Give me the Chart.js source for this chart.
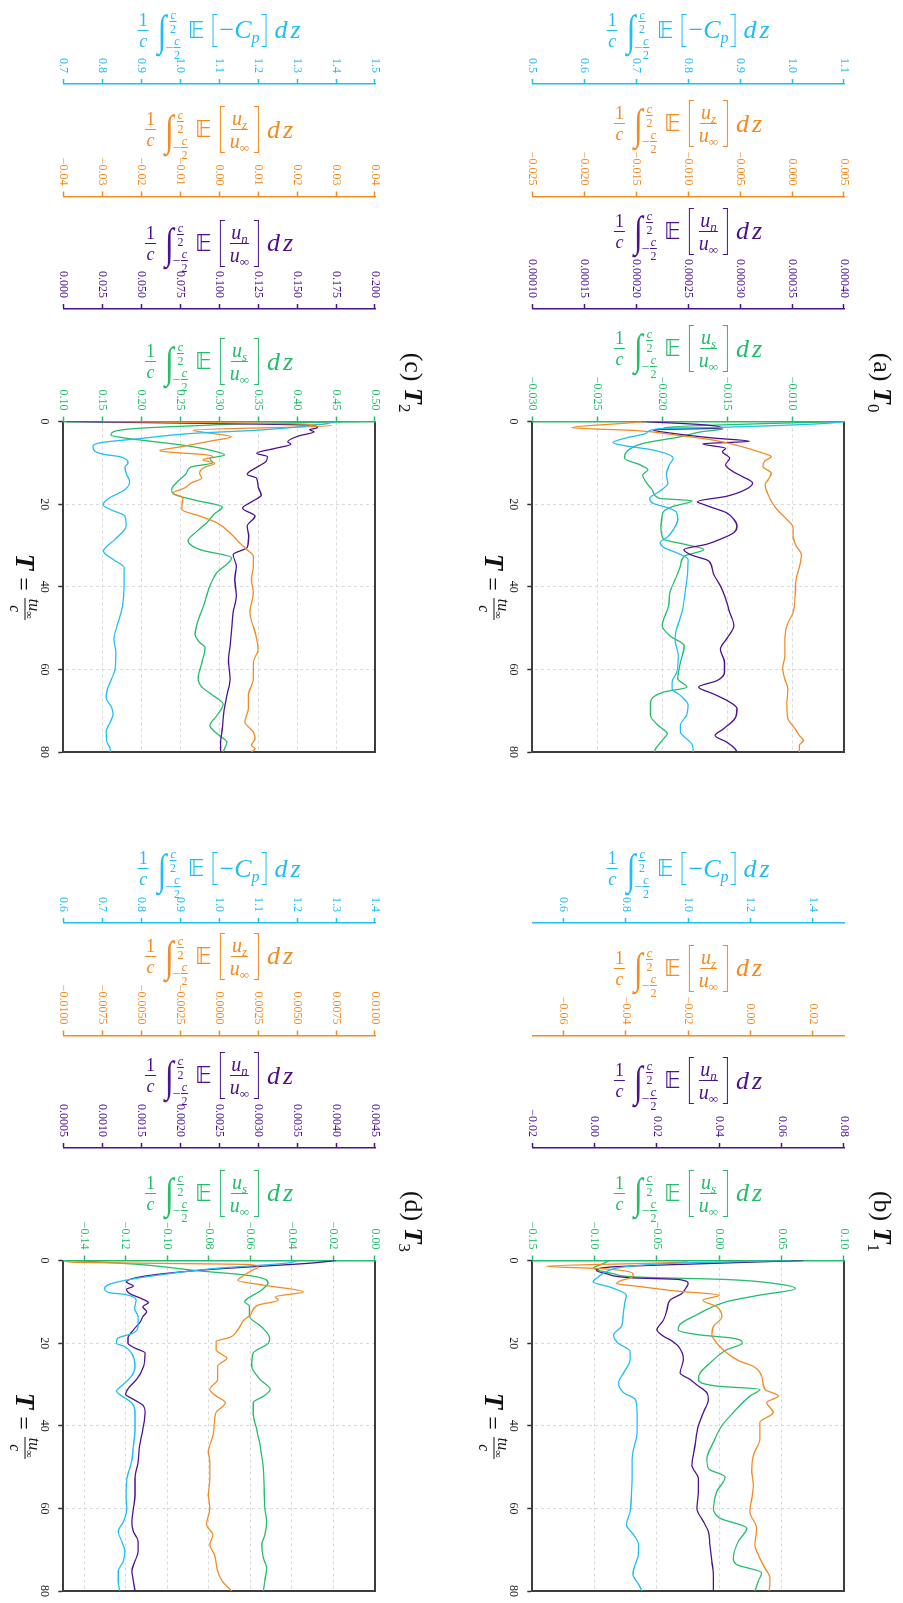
<!DOCTYPE html>
<html><head><meta charset="utf-8">
<script src="https://cdn.jsdelivr.net/npm/chart.js@4.4.1/dist/chart.umd.min.js"></script>
<style>
html,body{margin:0;padding:0;background:#fff;}
body{position:relative;width:903px;height:1603px;overflow:hidden;font-family:'Liberation Serif',serif;}
.rot{position:absolute;left:0;top:0;transform-origin:0 0;}
.fm{position:absolute;display:flex;align-items:center;white-space:nowrap;line-height:1;transform:translate(-50%,-50%);font-family:'Liberation Serif',serif;}
.fr{display:inline-flex;flex-direction:column;align-items:center;line-height:1;}
.fr .n{border-bottom:1.5px solid currentColor;padding:0 1px 1px;}
.fr .d{padding-top:1px;}
.bk{display:inline-block;width:5px;border:1.5px solid currentColor;box-sizing:border-box;}
.bk.l{border-right:none;} .bk.r{border-left:none;}
.lim{display:inline-flex;flex-direction:column;justify-content:space-between;align-items:flex-start;}
.fm sub,.ov sub{font-size:0.65em;vertical-align:-0.3em;line-height:0;}
.fm sub{font-style:italic;}
.ov{position:absolute;transform:translate(-50%,-50%);white-space:nowrap;display:flex;align-items:center;line-height:1;color:#111;font-family:'Liberation Serif',serif;}
</style></head><body>
<script>
// ---------- shared ----------
const T_TICKS = [0, 20, 40, 60, 80];

// ---------- panel (c) T2 ----------
const T_c_cp = [0,0.7,2.1,2.9,4.1,5.1,6.1,7.1,8.0,8.5,10.1,11.0,12.5,14.5,16.5,18.7,20.2,21.4,22.9,25.3,28.5,31.4,33.4,35.4,39.8,44.6,48.6,52.7,55.9,59.9,62.3,64.8,66.8,69.2,70.8,72.8,75.2,77.2,79.2,80];
const c_cp   = [1.40,1.362,1.199,1.028,0.90,0.798,0.776,0.780,0.807,0.844,0.866,0.858,0.861,0.870,0.858,0.815,0.802,0.823,0.858,0.861,0.833,0.803,0.828,0.856,0.856,0.852,0.841,0.830,0.835,0.833,0.824,0.813,0.810,0.824,0.828,0.820,0.810,0.811,0.820,0.821];
const T_c_uz = [0,0.4,1.0,2.1,2.6,3.7,4.7,6.1,7.1,7.6,8.0,8.5,9.3,10.1,11.2,12.5,13.7,14.9,16.1,17.3,18.5,19.8,21.3,22.9,24.5,27.7,29.4,31.0,32.6,35.0,38.2,41.4,46.2,51.0,55.1,58.3,62.3,66.3,69.5,72.7,75.2,76.8,78.4,79.2,80];
const c_uz   = [-0.030,0.010,0.0288,-0.0067,-0.004,0.0031,-0.002,-0.0097,-0.0153,-0.010,-0.004,-0.0016,-0.0042,-0.0011,-0.004,-0.005,-0.0045,-0.0072,-0.0089,-0.0118,-0.0093,-0.0095,-0.0096,-0.0049,-0.0006,0.0036,0.0053,0.0071,0.0088,0.0088,0.0083,0.0088,0.0079,0.0092,0.0100,0.0088,0.0088,0.0075,0.0075,0.0066,0.0088,0.0092,0.0083,0.0092,0.0083];
const T_c_un = [0,0.3,0.9,1.5,2.0,2.5,3.5,4.9,5.5,6.5,7.7,8.5,9.7,10.9,12.8,13.7,15.7,17.8,19.4,21.0,22.9,25.3,27.7,30.5,32.2,35.0,38.2,42.2,46.2,50.3,54.3,58.3,62.3,66.3,70.3,74.4,77.6,80];
const c_un   = [0.002,0.06,0.158,0.163,0.158,0.161,0.151,0.144,0.146,0.136,0.124,0.131,0.130,0.125,0.118,0.124,0.125,0.127,0.121,0.115,0.123,0.118,0.119,0.118,0.109,0.111,0.110,0.111,0.109,0.108,0.107,0.106,0.107,0.105,0.103,0.102,0.101,0.101];
const T_c_us = [0,0.5,1.0,1.6,2.5,3.3,4.0,4.8,5.8,7.0,8.1,9.0,10.0,11.0,12.5,14.5,16.5,17.5,19.0,20.7,22.5,24.5,26.5,28.9,31.0,33.0,36.6,39.8,44.6,49.4,51.5,53.5,54.7,58.3,62.3,64.3,66.3,68.4,71.2,73.6,75.2,76.4,77.6,79.2,80];
const c_us   = [0.48,0.34,0.273,0.20,0.164,0.161,0.179,0.213,0.256,0.290,0.307,0.288,0.292,0.264,0.258,0.247,0.239,0.241,0.268,0.304,0.293,0.284,0.272,0.260,0.275,0.316,0.297,0.288,0.280,0.271,0.269,0.275,0.282,0.278,0.273,0.278,0.292,0.305,0.297,0.288,0.295,0.303,0.310,0.307,0.305];
const c_cp_range = [0.7, 1.5],  c_cp_ticks = [0.7,0.8,0.9,1.0,1.1,1.2,1.3,1.4,1.5];
const c_uz_range = [-0.04, 0.04], c_uz_ticks = [-0.04,-0.03,-0.02,-0.01,0,0.01,0.02,0.03,0.04];
const c_un_range = [0, 0.2],    c_un_ticks = [0,0.025,0.05,0.075,0.1,0.125,0.15,0.175,0.2];
const c_us_range = [0.1, 0.5],  c_us_ticks = [0.1,0.15,0.2,0.25,0.3,0.35,0.4,0.45,0.5];

// ---------- panel (a) T0 ----------
const T_a_cp = [0,0.5,1.4,1.8,2.8,4.0,5.1,5.8,6.9,8.9,10.5,12.9,14.9,16.9,18.6,19.8,21.0,22.1,23.7,26.1,28.1,29.3,30.5,31.8,33.4,36.6,41.4,46.2,50.2,52.7,56.7,60.7,63.1,64.7,66.3,68.7,71.1,73.5,75.2,76.8,78.0,80];
const a_cp   = [1.10,1.06,0.867,0.74,0.72,0.68,0.655,0.675,0.732,0.771,0.764,0.758,0.761,0.745,0.726,0.732,0.764,0.778,0.780,0.772,0.759,0.746,0.753,0.778,0.800,0.799,0.794,0.788,0.778,0.775,0.781,0.778,0.769,0.769,0.785,0.800,0.797,0.785,0.785,0.797,0.807,0.810];
const T_a_uz = [0,0.4,1.5,2.2,3.3,4.5,6.1,7.5,8.5,9.5,10.9,12.5,14.1,15.3,16.5,17.7,19.7,21.7,23.7,25.7,27.7,30.1,32.2,34.2,38.2,42.2,46.2,49.4,53.5,56.7,59.9,62.3,64.7,68.7,71.9,74.4,76.0,77.2,78.4,80];
const a_uz   = [-0.014,-0.016,-0.0212,-0.015,-0.0111,-0.0076,-0.0048,-0.0030,-0.0020,-0.0026,-0.0028,-0.0020,-0.0023,-0.0026,-0.0025,-0.0023,-0.0019,-0.0013,-0.0005,0.0001,0.0001,0.0004,0.0009,0.0008,0.0004,0.0003,0.0001,-0.0005,-0.0007,-0.0007,-0.0009,-0.0007,-0.0004,-0.0005,-0.0004,0.0003,0.0007,0.0011,0.0007,0.0007];
const T_a_un = [0,0.8,1.6,2.0,3.0,4.0,4.8,5.4,6.5,7.3,8.9,10.5,12.1,13.3,14.9,16.5,18.1,19.4,20.1,20.9,22.1,23.7,25.3,26.9,28.5,29.7,31.0,32.2,33.8,36.6,39.8,42.2,46.2,49.4,52.6,55.1,58.3,60.7,62.7,64.3,65.9,67.9,69.5,71.9,74.4,76.0,77.6,79.2,80];
const a_un   = [0.000205,0.000265,0.000283,0.000216,0.000239,0.000274,0.000309,0.000264,0.000286,0.000283,0.000290,0.000286,0.000293,0.000302,0.000312,0.000305,0.000287,0.000259,0.000265,0.000274,0.000287,0.000294,0.000297,0.000294,0.000281,0.000268,0.000246,0.000252,0.000270,0.000274,0.000281,0.000285,0.000290,0.000294,0.000287,0.000281,0.000285,0.000285,0.000278,0.000260,0.000274,0.000290,0.000297,0.000295,0.000284,0.000276,0.000287,0.000295,0.000297];
const T_a_us = [0,0.5,1.5,1.8,2.5,3.7,5.3,7.3,8.9,10.5,11.7,12.9,14.9,16.9,18.6,19.2,20.6,21.8,22.9,25.7,28.5,29.7,31.0,32.6,35.0,38.2,41.4,44.6,49.4,51.9,54.3,58.3,62.3,64.3,65.5,67.9,71.1,73.6,75.6,76.8,79.2,80];
const a_us   = [-0.006,-0.012,-0.0199,-0.0153,-0.0170,-0.0186,-0.02146,-0.02274,-0.0229,-0.0217,-0.0211,-0.0215,-0.0212,-0.0207,-0.0202,-0.0177,-0.0192,-0.0199,-0.0200,-0.0201,-0.0199,-0.0183,-0.0168,-0.0183,-0.0186,-0.0190,-0.0194,-0.0195,-0.0200,-0.0194,-0.0183,-0.0186,-0.0188,-0.0181,-0.0199,-0.0209,-0.0209,-0.0203,-0.0196,-0.0199,-0.0205,-0.0206];
const a_cp_range = [0.5, 1.1],       a_cp_ticks = [0.5,0.6,0.7,0.8,0.9,1.0,1.1];
const a_uz_range = [-0.025, 0.005],  a_uz_ticks = [-0.025,-0.02,-0.015,-0.01,-0.005,0,0.005];
const a_un_range = [0.0001, 0.0004], a_un_ticks = [0.0001,0.00015,0.0002,0.00025,0.0003,0.00035,0.0004];
const a_us_range = [-0.030, -0.006], a_us_ticks = [-0.03,-0.025,-0.02,-0.015,-0.01];

// ---------- panel (d) T3 ----------
const T_d_cp = [0,0.6,2.0,4.0,5.6,6.8,7.8,8.2,9.6,11.6,13.6,15.6,17.6,18.8,20.0,20.8,22.4,25.6,28.0,30.0,31.6,32.8,34.4,36.8,40.8,44.8,48.8,52.8,56.8,60.0,63.2,65.6,68.0,70.4,72.8,75.2,77.6,80];
const d_cp   = [1.20,1.177,0.980,0.809,0.723,0.706,0.719,0.757,0.787,0.783,0.792,0.792,0.779,0.740,0.736,0.757,0.775,0.784,0.775,0.754,0.737,0.750,0.775,0.784,0.784,0.780,0.775,0.763,0.761,0.763,0.754,0.741,0.750,0.758,0.754,0.741,0.741,0.745];
const T_d_uz = [0,0.4,1.0,1.6,2.4,3.6,4.8,6.0,7.6,8.8,9.6,10.8,13.2,14.4,16.8,18.6,19.6,21.6,22.8,23.6,25.6,28.8,31.2,32.8,34.4,36.8,39.2,42.4,46.4,48.8,52.8,56.8,60.0,64.0,66.4,68.8,71.2,75.2,77.6,80];
const d_uz   = [-0.0099,-0.0095,0.0020,0.0025,0.0021,0.0016,0.0012,0.0029,0.0054,0.0036,0.0038,0.0025,0.0020,0.0016,0.0012,0.0007,-0.0002,-0.0002,0.0002,0.0005,-0.0001,-0.0001,-0.0006,-0.0002,0.0004,-0.0002,-0.0003,-0.0004,-0.0007,-0.0006,-0.0006,-0.0007,-0.0006,-0.0008,-0.0004,-0.0006,-0.0003,-0.0001,0.0002,0.0008];
const T_d_un = [0,0.6,2.2,3.8,5.2,6.2,7.0,8.0,9.2,10.2,11.2,12.4,13.6,14.8,16.8,18.8,20.0,21.2,22.4,25.6,28.8,30.8,32.4,33.6,35.2,36.8,40.8,44.8,48.8,52.8,56.8,60.0,63.2,65.6,68.0,70.4,72.8,75.2,77.6,80];
const d_un   = [0.0040,0.0037,0.00236,0.00154,0.00131,0.00140,0.00131,0.00135,0.00150,0.00159,0.00152,0.00157,0.00152,0.00149,0.00140,0.00133,0.00133,0.00142,0.00155,0.00153,0.00144,0.00134,0.00130,0.00140,0.00153,0.00155,0.00152,0.00148,0.00146,0.00142,0.00142,0.00140,0.00138,0.00140,0.00146,0.00146,0.00142,0.00138,0.00140,0.00142];
const T_d_us = [0,1.0,2.5,3.5,4.5,5.4,7.2,10.0,11.0,13.6,16.0,18.8,20.0,22.4,25.6,28.8,31.2,32.8,34.4,36.8,40.8,44.8,50.4,54.4,60.0,63.2,66.4,68.8,72.0,74.4,77.6,80];
const d_us   = [-0.145,-0.1125,-0.085,-0.0627,-0.0530,-0.0515,-0.0547,-0.0627,-0.0605,-0.0604,-0.0547,-0.0507,-0.0513,-0.0586,-0.0593,-0.0553,-0.0505,-0.0535,-0.0586,-0.0586,-0.0570,-0.0553,-0.0537,-0.0534,-0.0530,-0.0522,-0.0530,-0.0545,-0.0537,-0.0522,-0.0530,-0.0537];
const d_cp_range = [0.6, 1.4],       d_cp_ticks = [0.6,0.7,0.8,0.9,1.0,1.1,1.2,1.3,1.4];
const d_uz_range = [-0.01, 0.01],    d_uz_ticks = [-0.01,-0.0075,-0.005,-0.0025,0,0.0025,0.005,0.0075,0.01];
const d_un_range = [0.0005, 0.0045], d_un_ticks = [0.0005,0.001,0.0015,0.002,0.0025,0.003,0.0035,0.004,0.0045];
const d_us_range = [-0.15, 0],       d_us_ticks = [-0.14,-0.12,-0.1,-0.08,-0.06,-0.04,-0.02,0];

// ---------- panel (b) T1 ----------
const T_b_cp = [0,0.6,1.5,2.7,4.0,5.2,6.4,8.4,10.4,13.6,16.0,18.0,20.0,22.0,24.0,27.2,29.6,32.0,33.6,36.8,41.6,46.4,49.6,52.8,56.8,60.8,64.0,66.4,68.8,71.2,73.6,76.0,78.4,80];
const b_cp   = [1.33,0.98,0.80,0.738,0.711,0.695,0.748,0.802,0.796,0.791,0.786,0.761,0.775,0.814,0.814,0.793,0.777,0.793,0.830,0.836,0.836,0.823,0.820,0.820,0.818,0.814,0.802,0.825,0.841,0.840,0.830,0.823,0.841,0.852];
const T_b_uz = [0,0.4,1.4,2.0,3.2,3.8,5.0,5.6,6.2,7.4,8.4,9.6,11.2,13.6,16.0,18.0,20.0,22.4,24.4,25.6,28.0,31.2,32.8,34.4,36.8,39.2,43.2,47.2,51.2,54.4,57.6,60.8,64.8,68.8,71.2,74.4,76.8,78.4,80];
const b_uz   = [-0.020,-0.022,-0.0654,-0.0473,-0.0377,-0.0377,-0.042,-0.043,-0.0367,-0.0238,-0.010,-0.0153,-0.0108,-0.0092,-0.0119,-0.0124,-0.0108,-0.0076,-0.0034,0.0009,0.0036,0.0046,0.0089,0.0052,0.0073,0.0030,0.0030,0.0009,0.0004,0.0009,0.0004,-0.0002,0.0020,0.0014,0.0025,0.0046,0.0062,0.0062,0.0060];
const T_b_un = [0,0.8,1.6,2.4,3.2,4.2,4.6,5.6,6.4,7.2,8.0,9.6,12.0,14.4,16.8,18.4,19.2,20.8,24.0,27.2,28.8,30.4,32.0,33.6,36.8,40.0,44.8,49.6,52.8,56.0,60.0,63.2,65.6,68.8,72.8,76.0,80];
const b_un   = [0.067,0.0336,0.0048,0.0006,0.0038,0.012,0.027,0.030,0.0295,0.0288,0.0280,0.0242,0.0232,0.0221,0.0200,0.0222,0.0242,0.0269,0.0285,0.0274,0.0306,0.0333,0.0360,0.0365,0.0349,0.0333,0.0322,0.0312,0.0333,0.0333,0.0328,0.0349,0.0365,0.0370,0.0376,0.0381,0.0381];
const T_b_us = [0,1.0,1.8,3.2,4.0,4.6,5.6,6.8,8.4,10.0,13.2,15.6,16.8,18.0,18.8,20.0,21.6,24.8,27.2,28.8,30.4,31.2,32.8,36.8,40.0,44.0,48.0,50.4,52.4,56.0,60.0,62.4,64.8,68.0,72.0,73.6,75.6,77.6,80];
const b_us   = [-0.088,-0.095,-0.101,-0.085,-0.066,0.0054,0.045,0.061,0.032,0.0054,-0.0185,-0.032,-0.033,-0.016,0.0107,0.0185,0.006,-0.0074,-0.0154,-0.0167,-0.002,0.0326,0.0246,0.0112,0.0020,-0.0047,-0.0100,-0.0087,0.0046,-0.0021,-0.0047,0.0006,0.0220,0.0152,0.0112,0.0139,0.0340,0.0313,0.0286];
const b_cp_range = [0.5, 1.5],   b_cp_ticks = [0.6,0.8,1.0,1.2,1.4];
const b_uz_range = [-0.07, 0.03], b_uz_ticks = [-0.06,-0.04,-0.02,0,0.02];
const b_un_range = [-0.02, 0.08], b_un_ticks = [-0.02,0,0.02,0.04,0.06,0.08];
const b_us_range = [-0.15, 0.10], b_us_ticks = [-0.15,-0.1,-0.05,0,0.05,0.1];

// ---------- styling / layout ----------
const COLORS = {cp:'#1fbef4', uz:'#f28b22', un:'#4b118f', us:'#24bd6b'};
const KEYS = ['cp','uz','un','us'];
const W = 765, H = 435;              // landscape chart size (rotated 90deg on page)
const AXIS_W = {cp:84, uz:112.5, un:112.5, us:112.5};
const AXIS_WEIGHT = {cp:4, uz:3, un:2, us:1};
const TICK_LEN = 5, TICK_PAD = 6, FONT = "'Liberation Serif', 'Times New Roman', serif";

const PANELS = [
  {left:0,   top:0,     tag:'(c)', sub:'2', s:{
    cp:{T:T_c_cp,v:c_cp,range:c_cp_range,ticks:c_cp_ticks,dec:1},
    uz:{T:T_c_uz,v:c_uz,range:c_uz_range,ticks:c_uz_ticks,dec:2},
    un:{T:T_c_un,v:c_un,range:c_un_range,ticks:c_un_ticks,dec:3},
    us:{T:T_c_us,v:c_us,range:c_us_range,ticks:c_us_ticks,dec:2}}},
  {left:469, top:0,     tag:'(a)', sub:'0', s:{
    cp:{T:T_a_cp,v:a_cp,range:a_cp_range,ticks:a_cp_ticks,dec:1},
    uz:{T:T_a_uz,v:a_uz,range:a_uz_range,ticks:a_uz_ticks,dec:3},
    un:{T:T_a_un,v:a_un,range:a_un_range,ticks:a_un_ticks,dec:5},
    us:{T:T_a_us,v:a_us,range:a_us_range,ticks:a_us_ticks,dec:3}}},
  {left:0,   top:838.5, tag:'(d)', sub:'3', s:{
    cp:{T:T_d_cp,v:d_cp,range:d_cp_range,ticks:d_cp_ticks,dec:1},
    uz:{T:T_d_uz,v:d_uz,range:d_uz_range,ticks:d_uz_ticks,dec:4},
    un:{T:T_d_un,v:d_un,range:d_un_range,ticks:d_un_ticks,dec:4},
    us:{T:T_d_us,v:d_us,range:d_us_range,ticks:d_us_ticks,dec:2}}},
  {left:469, top:838.5, tag:'(b)', sub:'1', s:{
    cp:{T:T_b_cp,v:b_cp,range:b_cp_range,ticks:b_cp_ticks,dec:1},
    uz:{T:T_b_uz,v:b_uz,range:b_uz_range,ticks:b_uz_ticks,dec:2},
    un:{T:T_b_un,v:b_un,range:b_un_range,ticks:b_un_ticks,dec:2},
    us:{T:T_b_us,v:b_us,range:b_us_range,ticks:b_us_ticks,dec:2}}}
];

function fmt(v, dec) {
  let s = Number(v).toFixed(dec);
  if (/^-0\.0*$/.test(s)) s = s.slice(1);
  return s.replace('-', '\u2212');
}

function formulaHTML(kind) {
  const lead = `<span class="fr" style="font-size:18px"><span class="n">1</span><span class="d"><i>c</i></span></span>`;
  const integ = `<span style="display:inline-block;font-size:32px;font-style:italic;margin-left:9px;transform:scaleY(1.35);">\u222B</span>`;
  const half = `<span class="fr" style="font-size:12px"><span class="n" style="border-bottom-width:1.3px;padding-bottom:0"><i>c</i></span><span class="d">2</span></span>`;
  const lim = `<span class="lim" style="height:48px;margin-left:-1px;"><span style="margin-left:4px">${half}</span><span style="display:inline-flex;align-items:center;font-size:14px">\u2212${half}</span></span>`;
  const E = `<span style="font-size:23px;font-family:'DejaVu Sans',sans-serif;margin:0 8px 0 7px;">\u{1D53C}</span>`;
  let inner, bh;
  if (kind === 'cp') {
    inner = `<span style="font-size:26px;margin:0 2px">\u2212<i>C</i><sub style="font-size:16px">p</sub></span>`; bh = 33;
  } else {
    const sb = kind === 'uz' ? 'z' : (kind === 'un' ? 'n' : 's');
    inner = `<span class="fr" style="font-size:20px;margin:0 5px"><span class="n"><i>u</i><sub>${sb}</sub></span><span class="d"><i>u</i><sub>\u221E</sub></span></span>`; bh = 47;
  }
  const br = `<span class="bk l" style="height:${bh}px"></span>${inner}<span class="bk r" style="height:${bh}px"></span>`;
  const dz = `<i style="font-size:26px;margin-left:8px">d</i><i style="font-size:26px;margin-left:3px">z</i>`;
  return lead + integ + lim + E + br + dz;
}

Chart.defaults.font.family = FONT;
Chart.defaults.font.size = 12;

const measureCtx = document.createElement('canvas').getContext('2d');
measureCtx.font = "12px " + FONT;

PANELS.forEach(p => {
  const rot = document.createElement('div');
  rot.className = 'rot';
  rot.style.left = p.left + 'px';
  rot.style.top = p.top + 'px';
  rot.style.width = W + 'px';
  rot.style.height = H + 'px';
  rot.style.transform = `translate(${H}px,0) rotate(90deg)`;
  document.body.appendChild(rot);
  const cv = document.createElement('canvas');
  cv.width = W; cv.height = H;
  cv.style.width = W + 'px'; cv.style.height = H + 'px';
  cv.style.position = 'absolute'; cv.style.left = '0'; cv.style.top = '0';
  rot.appendChild(cv);

  const scales = {
    x: {
      type: 'linear', position: 'bottom', min: 0, max: 80,
      afterBuildTicks: s => { s.ticks = T_TICKS.map(v => ({value: v})); },
      ticks: {color: '#222', padding: 7, maxRotation: 0, minRotation: 0, font: {size: 12}},
      grid: {color: '#d9d9d9', lineWidth: 1, tickLength: TICK_LEN, tickColor: '#333', tickWidth: 1.5, borderDash: [3, 3]},
      border: {display: true, color: '#3d3d3d', width: 2, dash: [3, 3]},
      afterFit: s => { s.height = 63.3; }
    },
    x2: {
      type: 'linear', position: 'top', display: true,
      ticks: {display: false}, grid: {display: false, drawTicks: false},
      border: {display: true, color: '#3d3d3d', width: 2}
    },
    yR: {
      type: 'linear', position: 'right', display: true,
      ticks: {display: false}, grid: {display: false, drawTicks: false},
      border: {display: true, color: '#3d3d3d', width: 2}
    }
  };
  const datasets = [];
  KEYS.forEach(k => {
    const a = p.s[k];
    scales[k] = {
      type: 'linear', position: 'left', weight: AXIS_WEIGHT[k],
      min: a.range[0], max: a.range[1],
      afterBuildTicks: s => { s.ticks = a.ticks.map(v => ({value: v})); },
      ticks: {color: COLORS[k], padding: TICK_PAD, font: {size: 12}, callback: v => fmt(v, a.dec)},
      grid: {drawOnChartArea: k === 'us', color: '#d9d9d9', lineWidth: 1, tickLength: TICK_LEN,
             tickColor: COLORS[k], tickWidth: 1.5, borderDash: [3, 3]},
      border: {display: true, color: COLORS[k], width: 1.5, dash: [3, 3]},
      afterFit: s => { s.width = AXIS_W[k]; }
    };
    datasets.push({
      label: k, yAxisID: k, xAxisID: 'x',
      data: a.T.map((t, i) => ({x: t, y: a.v[i]})),
      borderColor: COLORS[k], borderWidth: 1.3, pointRadius: 0,
      cubicInterpolationMode: 'monotone', fill: false
    });
  });

  const chart = new Chart(cv, {
    type: 'line',
    data: {datasets},
    options: {
      responsive: false, animation: false, devicePixelRatio: 1,
      layout: {padding: {left: 0, right: 11, top: 60, bottom: 0}},
      plugins: {legend: {display: false}, title: {display: false}, tooltip: {enabled: false}},
      scales
    }
  });

  const ca = chart.chartArea;
  // axis title for T (rotated with chart)
  const tt = document.createElement('div');
  tt.className = 'ov';
  tt.style.left = ((ca.left + ca.right) / 2) + 'px';
  tt.style.top = (H - 25) + 'px';
  tt.innerHTML = `<b><i style="font-size:27px">T</i></b><span style="font-size:24px;margin:0 7px">=</span>` +
    `<span class="fr" style="font-size:16px"><span class="n" style="border-bottom-width:1.8px"><i>tu</i><sub>\u221E</sub></span><span class="d"><i>c</i></span></span>`;
  rot.appendChild(tt);
  // panel title
  const pt = document.createElement('div');
  pt.className = 'ov';
  pt.style.left = (W / 2) + 'px';
  pt.style.top = '22px';
  pt.innerHTML = `<span style="font-size:26px">${p.tag}&nbsp;<b><i>T</i></b><sub style="font-size:17px;vertical-align:-0.35em">${p.sub}</sub></span>`;
  rot.appendChild(pt);

  // value-axis formulas (horizontal on the page)
  const cx = p.left + H - (ca.top + ca.bottom) / 2;
  KEYS.forEach(k => {
    const s = chart.scales[k];
    let maxW = 0;
    s.ticks.forEach(t => { maxW = Math.max(maxW, measureCtx.measureText(fmt(t.value, p.s[k].dec)).width); });
    const X = s.right - TICK_LEN - TICK_PAD - maxW - 28;
    const f = document.createElement('div');
    f.className = 'fm';
    f.style.color = COLORS[k];
    f.style.left = cx + 'px';
    f.style.top = (p.top + X) + 'px';
    f.innerHTML = formulaHTML(k);
    document.body.appendChild(f);
  });
});
</script>
</body></html>
